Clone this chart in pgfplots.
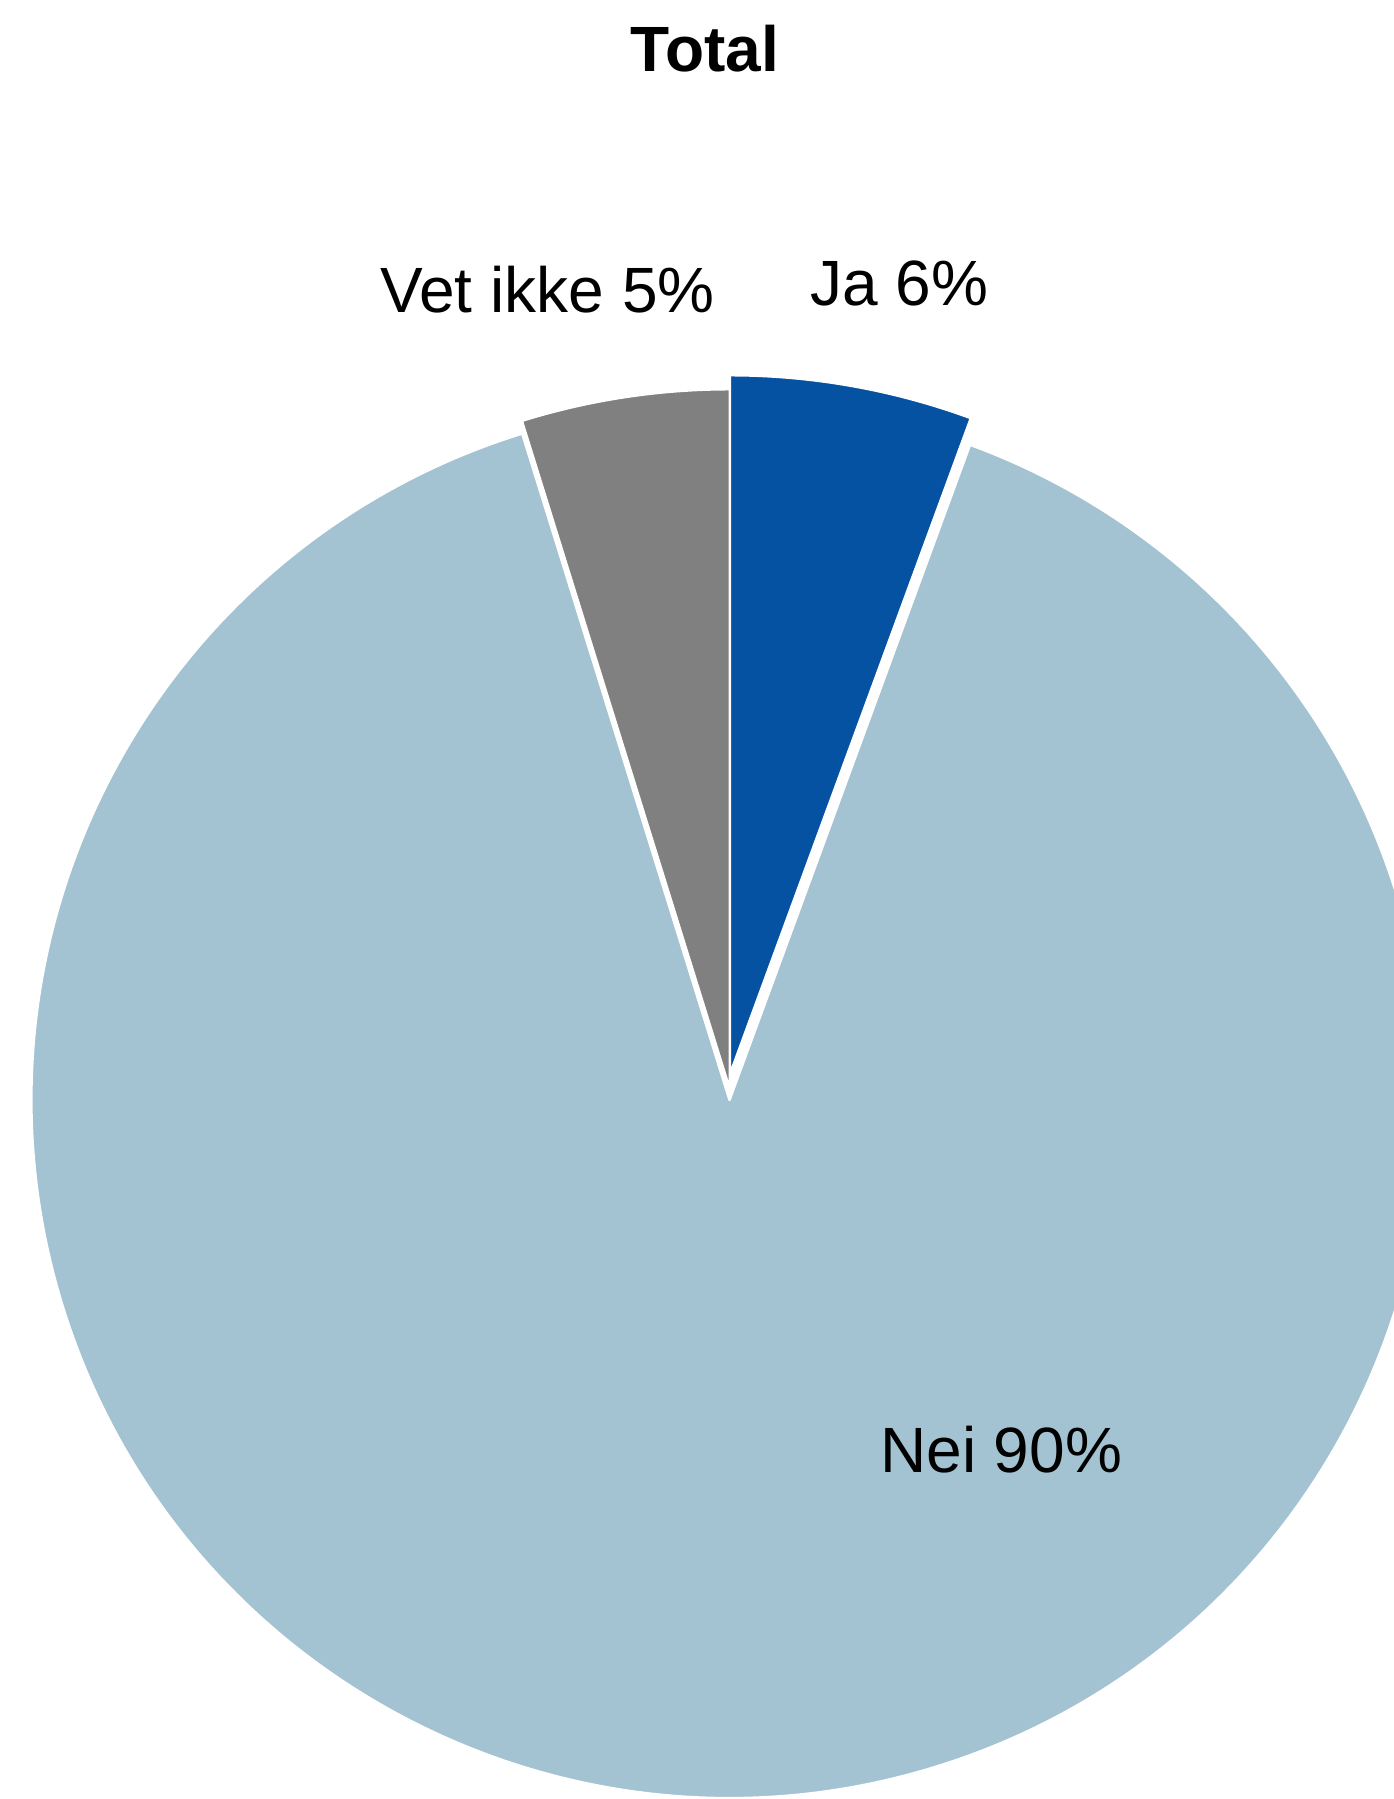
\documentclass[border=0pt]{standalone}
\usepackage{pgfplots}
\pgfplotsset{compat=1.18}
\usepackage{pgfplotstable}
\usepackage{fontspec}
\setmainfont{Liberation Sans}
\definecolor{jablue}{HTML}{0652A2}
\definecolor{neiblue}{HTML}{A3C2D2}
\definecolor{vetgrey}{HTML}{808080}

% share (%) and offset of each exploded slice (px)
\pgfplotstableread[col sep=comma]{
label,value,dx,dy
Ja,5.6,0.5,26.5
Nei,89.6,0,0
Vet ikke,4.8,0,12.5
}\piedata

\begin{document}
\begin{tikzpicture}
\pgfplotstablegetelem{0}{value}\of\piedata \pgfmathsetmacro\vJa{\pgfplotsretval}
\pgfplotstablegetelem{1}{value}\of\piedata \pgfmathsetmacro\vNei{\pgfplotsretval}
\pgfplotstablegetelem{2}{value}\of\piedata \pgfmathsetmacro\vVet{\pgfplotsretval}
\pgfplotstablegetelem{0}{dx}\of\piedata \pgfmathsetmacro\dxJa{\pgfplotsretval}
\pgfplotstablegetelem{0}{dy}\of\piedata \pgfmathsetmacro\dyJa{\pgfplotsretval}
\pgfplotstablegetelem{1}{dx}\of\piedata \pgfmathsetmacro\dxNei{\pgfplotsretval}
\pgfplotstablegetelem{1}{dy}\of\piedata \pgfmathsetmacro\dyNei{\pgfplotsretval}
\pgfplotstablegetelem{2}{dx}\of\piedata \pgfmathsetmacro\dxVet{\pgfplotsretval}
\pgfplotstablegetelem{2}{dy}\of\piedata \pgfmathsetmacro\dyVet{\pgfplotsretval}
\pgfmathsetmacro\cx{729.5}
\pgfmathsetmacro\cy{699}
\pgfmathsetmacro\R{698}
% angles (counter-clockwise from +x); Ja runs clockwise from 12 o'clock
\pgfmathsetmacro\aJaS{90-3.6*\vJa}
\pgfmathsetmacro\aJaE{90}
\pgfmathsetmacro\aVetS{90}
\pgfmathsetmacro\aVetE{90+3.6*\vVet}
\pgfmathsetmacro\aNeiS{\aVetE}
\pgfmathsetmacro\aNeiE{\aVetE+3.6*\vNei}
\pgfmathsetmacro\jx{\cx+\dxJa}
\pgfmathsetmacro\jy{\cy+\dyJa}
\pgfmathsetmacro\vx{\cx+\dxVet}
\pgfmathsetmacro\vy{\cy+\dyVet}
\pgfmathsetmacro\nx{\cx+\dxNei}
\pgfmathsetmacro\ny{\cy+\dyNei}
\begin{axis}[name=ax, x=1pt, y=1pt, xmin=0, xmax=1394, ymin=0, ymax=1799,
  hide axis, clip=true]
\filldraw[fill=neiblue, draw=white, line width=2.5pt, line join=round]
  (axis cs:\nx,\ny) -- ++(\aNeiS:\R pt) arc[start angle=\aNeiS, end angle=\aNeiE, radius=\R pt] -- cycle;
\filldraw[fill=jablue, draw=white, line width=2pt, line join=round]
  (axis cs:\jx,\jy) -- ++(\aJaS:\R pt) arc[start angle=\aJaS, end angle=\aJaE, radius=\R pt] -- cycle;
\filldraw[fill=vetgrey, draw=white, line width=2pt, line join=round]
  (axis cs:\vx,\vy) -- ++(\aVetS:\R pt) arc[start angle=\aVetS, end angle=\aVetE, radius=\R pt] -- cycle;
\node[font=\fontsize{64}{77}\selectfont\bfseries, anchor=base, inner sep=0pt] at (axis cs:705,1727) {Total};
\node[font=\fontsize{64}{77}\selectfont, anchor=base west, inner sep=0pt] at (axis cs:380,1486) {Vet ikke 5\%};
\node[font=\fontsize{64}{77}\selectfont, anchor=base west, inner sep=0pt] at (axis cs:810,1493) {Ja 6\%};
\node[font=\fontsize{64}{77}\selectfont, anchor=base west, inner sep=0pt] at (axis cs:880,326) {Nei 90\%};
\end{axis}
\pgfresetboundingbox
\path (ax.south west) rectangle (ax.north east);
\end{tikzpicture}
\end{document}
